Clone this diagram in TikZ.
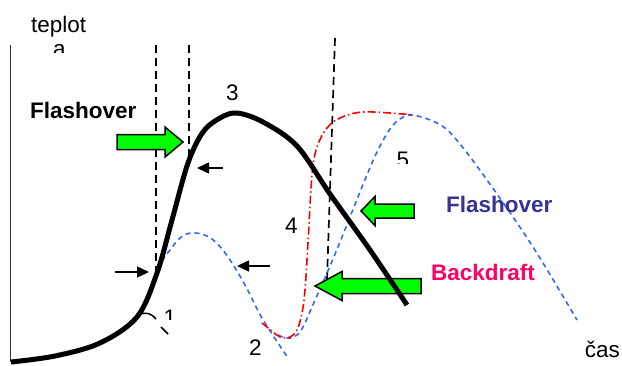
\documentclass[tikz,border=0pt]{standalone}
\usepackage{fontspec}
\setmainfont{Liberation Sans}
\usetikzlibrary{arrows.meta}

\definecolor{flashgreen}{HTML}{00FF00}
\definecolor{curveblue}{HTML}{3366FF}
\definecolor{flashblue}{HTML}{333399}
\definecolor{draftpink}{HTML}{FF0066}

\tikzset{
  guide/.style={black, line width=1.7pt, dash pattern=on 8pt off 5pt},
  bluecurve/.style={curveblue, line width=1.6pt, dash pattern=on 5pt off 4pt},
  redcurve/.style={red, line width=1.6pt, dash pattern=on 8pt off 3pt on 1.5pt off 3pt},
  greenarrow/.style={draw=black, line width=1.5pt, fill=flashgreen, line join=miter},
  pointer/.style={black, line width=1.6pt, -{Triangle[length=12pt,width=11pt]}},
  lbl/.style={inner sep=0pt, font=\fontsize{22.5}{24}\selectfont},
  boldlbl/.style={lbl, font=\fontsize{22.5}{24}\selectfont\bfseries},
}

\begin{document}
\begin{tikzpicture}[x=1pt,y=-1pt]
  \useasboundingbox (0,0) rectangle (622,365);

  % axis
  \draw[black!80, line width=1.6pt] (10.5,45) -- (10.5,362);

  % time marks
  \draw[guide] (156,45) -- (156,272);
  \draw[guide] (189,45) -- (189,158);
  \draw[guide] (335,38) -- (327,280);

  % flashover curves
  \draw[bluecurve] plot[smooth, tension=0.6] coordinates {
    (162,261) (180,238) (195,233) (212,239) (228,257) (245,285) (262,318) (288,358)};
  \draw[bluecurve] plot[smooth, tension=0.6] coordinates {
    (278,335) (286,338) (294,337) (302,329) (312,307) (327,273) (340,242)
    (362,187) (377,152) (390,129) (400,119) (412,115) (437,123) (455,138)
    (487,180) (533,247) (577,320)};

  % backdraft curve
  \draw[redcurve] plot[smooth, tension=0.6] coordinates {
    (262,323) (272,331) (280,337) (290,337) (297,330) (302,313) (305,290)
    (308,243) (312,175) (317,147) (327,128) (340,118) (363,112) (403,114) (413,115)};

  % green arrows
  \draw[greenarrow] (117,134.5) -- (165,134.5) -- (165,127) -- (183,142)
    -- (165,157) -- (165,149.5) -- (117,149.5) -- cycle;
  \draw[greenarrow] (414,204) -- (375,204) -- (375,196.5) -- (361,211)
    -- (375,225.5) -- (375,218) -- (414,218) -- cycle;
  \draw[greenarrow] (421,278.5) -- (342,278.5) -- (342,271.5) -- (315,286)
    -- (342,300.5) -- (342,293.5) -- (421,293.5) -- cycle;

  % main fire curve
  \draw[black, line width=5pt, line cap=butt] plot[smooth, tension=0.55] coordinates {
    (11,362) (55,356) (100,343) (137,317) (157,273) (172,220) (188,163)
    (203,132) (220,118) (237,113) (263,122) (297,146) (330,194)
    (370,250) (407,305)};

  % leader to 1
  \draw[black, line width=1.5pt] (139,315) .. controls (146,311) and (152,314) .. (156,319);
  \draw[black, line width=1.5pt] (161,327) -- (168,334);

  % small arrows
  \coordinate (pA1) at (115,272);
  \coordinate (pA2) at (149,272);
  \coordinate (pB1) at (270,266);
  \coordinate (pB2) at (237,266);
  \coordinate (pC1) at (223,168);
  \coordinate (pC2) at (197,168);
  \draw[pointer] (pA1) -- (pA2);
  \draw[pointer] (pB1) -- (pB2);
  \draw[pointer] (pC1) -- (pC2);

  % labels
  \node[lbl, anchor=base west] (labTemp) at (31,32) {teplot};
  \begin{scope}
    \clip (40,40) rectangle (80,52);
    \node[lbl, anchor=base west] (labA) at (53,56) {a};
  \end{scope}
  \node[boldlbl, anchor=base west] (labFlashL) at (30,118) {Flashover};
  \node[lbl, anchor=base] (lab3) at (232.5,100) {3};
  \node[lbl, anchor=base] (lab4) at (291.5,233) {4};
  \begin{scope}
    \clip (390,145) rectangle (420,163);
    \node[lbl, anchor=base] (lab5) at (403,167.5) {5};
  \end{scope}
  \begin{scope}
    \clip (160,305) rectangle (180,319);
    \node[lbl, anchor=base] (lab1) at (170,325.5) {1};
  \end{scope}
  \node[lbl, anchor=base] (lab2) at (255.5,355) {2};
  \node[boldlbl, flashblue, anchor=base west] (labFlashR) at (446,212) {Flashover};
  \node[boldlbl, draftpink, anchor=base west] (labDraft) at (431,280) {Backdraft};
  \node[lbl, anchor=base east] (labTime) at (620,357) {čas};
\end{tikzpicture}
\end{document}
